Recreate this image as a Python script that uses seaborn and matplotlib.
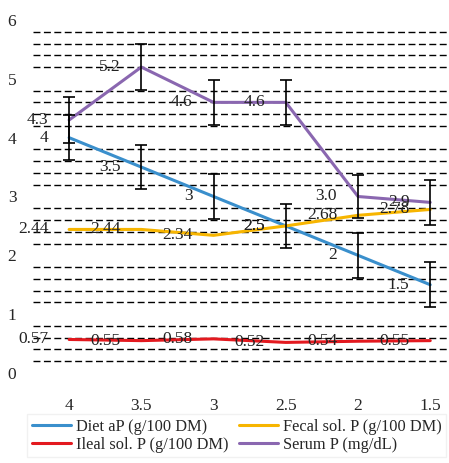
import numpy as np
import pandas as pd
import matplotlib
matplotlib.use('Agg')
import matplotlib.pyplot as plt
import seaborn as sns
from matplotlib.ticker import MultipleLocator

# Data
levels = ['4', '3.5', '3', '2.5', '2', '1.5']
diet_ap = [4, 3.5, 3, 2.5, 2, 1.5]
fecal_p = [2.44, 2.44, 2.34, 2.5, 2.68, 2.78]
ileal_p = [0.57, 0.55, 0.58, 0.52, 0.54, 0.55]
serum_p = [4.3, 5.2, 4.6, 4.6, 3.0, 2.9]
diet_err = [0.38, 0.38, 0.38, 0.38, 0.38, 0.38]
serum_err = [0.39, 0.39, 0.38, 0.38, 0.37, 0.38]

diet_lbl = ['4', '3.5', '3', '2.5', '2', '1.5']
fecal_lbl = ['2.44', '2.44', '2.34', '2.5', '2.68', '2.78']
ileal_lbl = ['0.57', '0.55', '0.58', '0.52', '0.54', '0.55']
serum_lbl = ['4.3', '5.2', '4.6', '4.6', '3.0', '2.9']

names = ['Diet aP (g/100 DM)', 'Fecal sol. P (g/100 DM)',
         'Ileal sol. P (g/100 DM)', 'Serum P (mg/dL)']
colors = ['#3a8fcc', '#f7b500', '#e3191f', '#8a67b0']

df = pd.DataFrame({
    'level': levels * 4,
    'value': diet_ap + fecal_p + ileal_p + serum_p,
    'series': sum([[n] * 6 for n in names], []),
})

sns.set_style('white')
plt.rcParams['font.family'] = ['Liberation Serif', 'DejaVu Serif']

fig = plt.figure(figsize=(4.49, 4.63), dpi=100)
ax = fig.add_axes([33 / 449, 90 / 463, 416 / 449, 353 / 463])

sns.lineplot(data=df, x='level', y='value', hue='series', hue_order=names,
             palette=colors, sort=False, linewidth=2.2, ax=ax, legend=True)

x = np.arange(len(levels))
ax.errorbar(x, diet_ap, yerr=diet_err, fmt='none', ecolor='black',
            elinewidth=1.2, capsize=4, capthick=1.2, zorder=5)
ax.errorbar(x, serum_p, yerr=serum_err, fmt='none', ecolor='black',
            elinewidth=1.2, capsize=4, capthick=1.2, zorder=5)

for vals, lbls in [(diet_ap, diet_lbl), (fecal_p, fecal_lbl),
                   (ileal_p, ileal_lbl), (serum_p, serum_lbl)]:
    for xi, v, t in zip(x, vals, lbls):
        ax.annotate(t, (xi, v), xytext=(-15, 0), textcoords='offset points',
                    ha='right', va='center', fontsize=12.5, color='#222222',
                    zorder=6, annotation_clip=False)

ax.set_xlim(-0.5, 5.26)
ax.set_ylim(0, 6)
ax.yaxis.set_major_locator(MultipleLocator(1))
ax.yaxis.set_minor_locator(MultipleLocator(0.2))
ax.grid(False)
ax.grid(which='minor', axis='y', color='black', linestyle=(0, (5, 2.5)),
        linewidth=1.0)
ax.set_axisbelow(True)
for s in ax.spines.values():
    s.set_visible(False)
ax.tick_params(axis='y', which='major', length=0, pad=12, labelsize=12.5)
ax.tick_params(axis='y', which='minor', length=0)
ax.tick_params(axis='x', length=0, pad=18, labelsize=12.5)
ax.set_xlabel('')
ax.set_ylabel('')

# legend fills column by column: Diet, Ileal | Fecal, Serum
h, l = ax.get_legend_handles_labels()
order = [0, 2, 1, 3]
ax.legend([h[i] for i in order], [l[i] for i in order], loc='upper left',
          bbox_to_anchor=(27 / 449, 1 - 414 / 463), bbox_transform=fig.transFigure,
          ncol=2, frameon=True, fontsize=11.8, handlelength=2.4,
          columnspacing=0.6, handletextpad=0.3, labelspacing=0.1,
          borderpad=0.3, borderaxespad=0, fancybox=False, edgecolor='#eeeeee')

fig.savefig('out.png', dpi=100)
